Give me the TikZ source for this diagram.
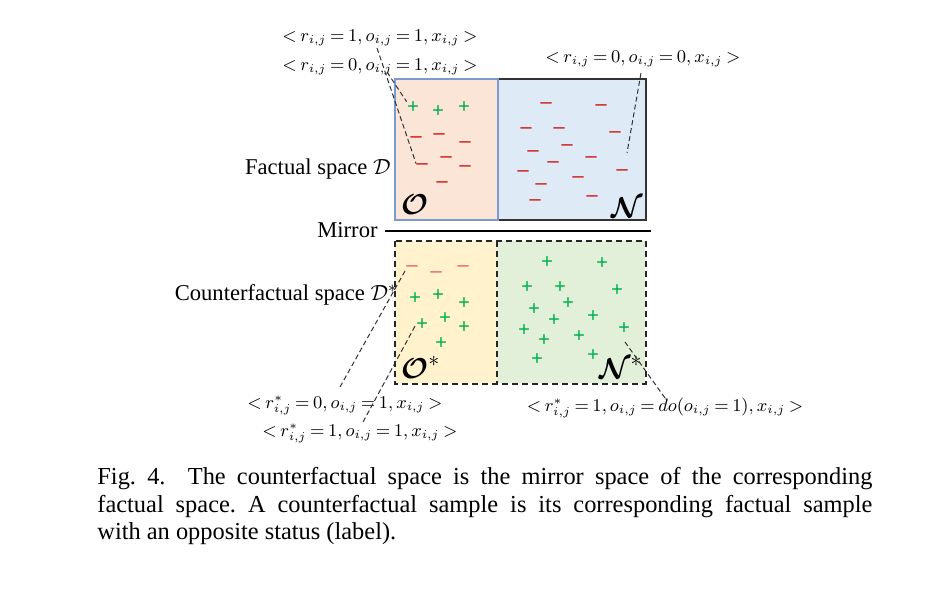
\documentclass[tikz,border=0pt]{standalone}
\usepackage{fontspec}
\usepackage{amsmath}
\setmainfont{Liberation Serif}

\definecolor{ofill}{HTML}{FBE5D6}
\definecolor{nfill}{HTML}{DEEBF7}
\definecolor{osfill}{HTML}{FFF2CC}
\definecolor{nsfill}{HTML}{E2F0D9}
\definecolor{oblue}{HTML}{7B9BD0}
\definecolor{pgreen}{HTML}{00B050}
\definecolor{mred}{HTML}{D02828}
\definecolor{mlight}{HTML}{E67070}

\newcommand\tuplefont{\fontsize{8.8}{10}\selectfont\thickmuskip=3.5mu\relax}

\begin{document}
\begin{tikzpicture}[
    x=0.5pt, y=-0.5pt,
    space/.style={draw=none, inner sep=0pt, minimum width=51pt},
    pmark/.style={text=pgreen, inner sep=0pt, font=\fontsize{10.5}{10.5}\selectfont\bfseries},
    mmark/.style={text=mred, inner sep=0pt, font=\fontsize{11}{11}\selectfont\bfseries},
    tuple/.style={inner sep=1pt, font=\tuplefont},
    side/.style={anchor=east, inner sep=0pt, font=\fontsize{11.3}{13}\selectfont},
    corner/.style={inner sep=0pt, font=\fontsize{15}{15}\selectfont},
    boxdash/.style={draw=black!85, line width=1pt, dash pattern=on 3pt off 2pt},
    link/.style={draw=black!80, line width=0.5pt, dash pattern=on 2.5pt off 1.5pt}
]
    \useasboundingbox (0,0) rectangle (933,600);

    \node[space, fill=ofill, minimum height=70pt, anchor=north west] (o) at (395,79) {};
    \node[space, fill=nfill, minimum width=74pt, minimum height=70pt, anchor=north west] (n) at (497,79) {};
    \draw[black!80, line width=1pt] (n.north west) -- (n.north east) -- (n.south east) -- (n.south west);
    \draw[oblue, line width=0.8pt] (o.north west) rectangle (o.south east);

    \coordinate (ml) at (385,231);
    \coordinate (mr) at (651,231);
    \draw[line width=0.8pt] (ml) -- (mr);

    \node[space, fill=osfill, minimum height=71pt, anchor=north west] (os) at (395,241) {};
    \node[space, fill=nsfill, minimum width=74pt, minimum height=71pt, anchor=north west] (ns) at (497,241) {};
    \draw[boxdash] (os.north west) rectangle (ns.south east);
    \draw[boxdash] (ns.north west) -- (ns.south west);

    \foreach \x/\y [count=\i] in {413/108, 438/112, 464/108}
        \node[pmark] (op\i) at (\x,\y) {+};
    \foreach \x/\y [count=\i] in {416/140, 439/137, 465/145, 446/160, 422/167, 465/169, 442/185}
        \node[mmark] (om\i) at (\x,\y) {–};
    \foreach \x/\y [count=\i] in {546/106, 601/108, 526/131, 559/131, 615/135, 567/148, 533/154, 591/160,
                                  553/165, 523/174, 622/173, 578/180, 541/187, 535/203, 592/199}
        \node[mmark] (nm\i) at (\x,\y) {–};
    \foreach \x/\y [count=\i] in {412/269, 436/275, 463/269}
        \node[mmark, text=mlight] (sm\i) at (\x,\y) {–};
    \foreach \x/\y [count=\i] in {415/299, 438/296, 464/304, 445/319, 422/325, 464/328, 441/344}
        \node[pmark] (sp\i) at (\x,\y) {+};
    \foreach \x/\y [count=\i] in {547/263, 602/264, 527/288, 560/288, 617/291, 568/304, 534/310, 593/317,
                                  554/321, 524/331, 624/329, 579/337, 544/341, 537/360, 593/356}
        \node[pmark] (tp\i) at (\x,\y) {+};

    \node[corner, anchor=base west] (co) at (401,214) {$\boldsymbol{\mathcal{O}}$};
    \node[corner, anchor=base east] (cn) at (643,217) {$\boldsymbol{\mathcal{N}}$};
    \node[corner, anchor=base west] (cos) at (401,378) {$\boldsymbol{\mathcal{O}}^*$};
    \node[corner, anchor=base east] (cns) at (643,378) {$\boldsymbol{\mathcal{N}}^*$};

    \node[side] (fs) at (391,169) {Factual space $\mathcal{D}$};
    \node[side] (mi) at (378,230) {Mirror};
    \node[side] (cs) at (398,295) {Counterfactual space $\mathcal{D}^*$};

    \node[tuple] (l1) at (380,38) {$<r_{i,j}=1,o_{i,j}=1,x_{i,j}>$};
    \node[tuple] (l2) at (380,67) {$<r_{i,j}=0,o_{i,j}=1,x_{i,j}>$};
    \node[tuple] (l3) at (643,59) {$<r_{i,j}=0,o_{i,j}=0,x_{i,j}>$};
    \node[tuple] (l4) at (345,405) {$<r^*_{i,j}=0,o_{i,j}=1,x_{i,j}>$};
    \node[tuple] (l5) at (360,433) {$<r^*_{i,j}=1,o_{i,j}=1,x_{i,j}>$};
    \node[tuple] (l6) at (665,408) {$<r^*_{i,j}=1,o_{i,j}=do(o_{i,j}=1),x_{i,j}>$};

    \coordinate (c1) at (377,48);
    \coordinate (c2) at (387,72);
    \coordinate (c3) at (641,73);
    \coordinate (e3) at (627,153);
    \coordinate (c4) at (340,387);
    \coordinate (c5) at (363,422);
    \coordinate (c6) at (665,398);
    \coordinate (e6) at (625,342);
    \draw[link] (c1) -- (om5.north west);
    \draw[link] (c2) -- (op1.north west);
    \draw[link] (c3) -- (e3);
    \draw[link] (c4) -- (sm1.west);
    \draw[link] (c5) -- (sp5.west);
    \draw[link] (c6) -- (e6);

    \node[anchor=north west, inner sep=0pt, text width=387.5pt, align=justify,
          font=\fontsize{12.2}{13.75}\selectfont\frenchspacing] (cap) at (97,467)
        {Fig. 4.\ \ The counterfactual space is the mirror space of the corresponding\linebreak
         factual space. A counterfactual sample is its corresponding factual sample\linebreak
         with an opposite status (label).};
\end{tikzpicture}
\end{document}
